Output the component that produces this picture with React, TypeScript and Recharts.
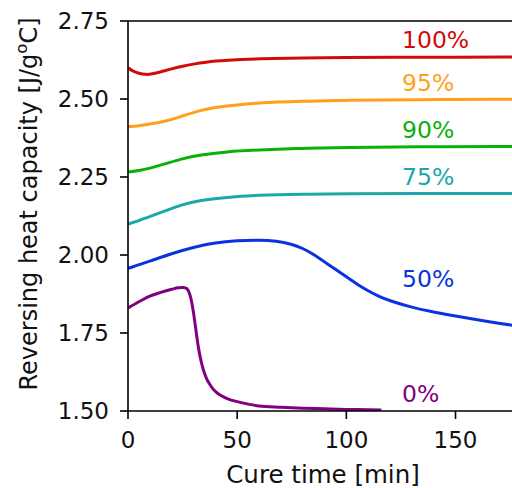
import { LineChart, Line, XAxis, YAxis, ReferenceLine, ReferenceDot } from "recharts";

// cure time [min] / reversing heat capacity [J/g°C]
const T_100 = [0, 2, 5, 8, 11, 15, 20, 25, 30, 35, 45, 60, 80, 100, 120, 150, 178];
const V_100 = [2.6, 2.59, 2.582, 2.578, 2.58, 2.587, 2.597, 2.605, 2.612, 2.618, 2.624, 2.629, 2.632, 2.633, 2.634, 2.634, 2.635];

const T_95 = [0, 5, 10, 18, 24, 33, 45, 59, 80, 100, 130, 178];
const V_95 = [2.411, 2.414, 2.42, 2.43, 2.443, 2.465, 2.478, 2.488, 2.493, 2.496, 2.498, 2.499];

const T_90 = [0, 5, 10, 18, 24, 33, 45, 59, 80, 100, 130, 178];
const V_90 = [2.266, 2.27, 2.278, 2.294, 2.307, 2.321, 2.331, 2.337, 2.342, 2.345, 2.347, 2.348];

const T_75 = [0, 5, 10, 18, 24, 33, 45, 59, 80, 100, 130, 178];
const V_75 = [2.099, 2.11, 2.123, 2.144, 2.16, 2.176, 2.185, 2.192, 2.195, 2.196, 2.197, 2.197];

const T_50 = [0, 10, 20, 30, 40, 50, 60, 68, 75, 80, 85, 90, 95, 100, 105, 110, 115, 120, 130, 140, 150, 160, 170, 178];
const V_50 = [1.957, 1.98, 2.005, 2.025, 2.04, 2.046, 2.048, 2.045, 2.035, 2.022, 2.002, 1.978, 1.954, 1.93, 1.906, 1.885, 1.867, 1.853, 1.832, 1.817, 1.804, 1.792, 1.781, 1.773];

const T_0 = [0, 5, 10, 15, 20, 23, 25.5, 27, 28, 29, 30, 31, 32, 33, 34, 35, 36, 37.5, 39, 41, 43, 46, 50, 55, 60, 70, 80, 90, 100, 110, 116];
const V_0 = [1.83, 1.85, 1.868, 1.88, 1.89, 1.895, 1.896, 1.892, 1.88, 1.855, 1.815, 1.765, 1.715, 1.675, 1.645, 1.622, 1.604, 1.585, 1.57, 1.557, 1.548, 1.538, 1.53, 1.522, 1.516, 1.512, 1.509, 1.507, 1.505, 1.504, 1.503];

const X_TICKS = [0, 50, 100, 150];
const Y_TICKS = [1.5, 1.75, 2.0, 2.25, 2.5, 2.75];

const LABEL_T = 125.5;
const LABELS = ["100%", "95%", "90%", "75%", "50%", "0%"];
const LABEL_V = [2.689, 2.55, 2.4, 2.25, 1.923, 1.554];

const COLORS = ["#d20a0a", "#ff9f1a", "#0ab00a", "#1aa8a8", "#0a32e0", "#800080"];
const CURVES: ("basis" | "monotone")[] = ["basis", "basis", "basis", "basis", "basis", "monotone"];

const toRows = (t: number[], v: number[]) => t.map((x, i) => ({ t: x, v: v[i] }));
const SERIES = [
  toRows(T_100, V_100),
  toRows(T_95, V_95),
  toRows(T_90, V_90),
  toRows(T_75, V_75),
  toRows(T_50, V_50),
  toRows(T_0, V_0),
];

const FONT = "DejaVu Sans";
const AXIS = {
  stroke: "#000",
  tick: { fill: "#111", fontSize: 23, fontFamily: FONT },
  tickSize: 8,
  tickLine: { stroke: "#000", strokeWidth: 1.6 },
  axisLine: { stroke: "#000", strokeWidth: 1.6 },
};

export default function App() {
  return (
    <div style={{ position: "fixed", left: 0, top: 0, width: 512, height: 488, overflow: "hidden", background: "#fff" }}>
      <LineChart width={521} height={488} margin={{ top: 21, right: 0, bottom: 0, left: 0 }}>
        <XAxis
          dataKey="t" type="number" domain={[0, 180]} ticks={X_TICKS} {...AXIS}
          height={77} tickMargin={13} allowDataOverflow
        />
        <YAxis
          type="number" domain={[1.5, 2.75]} ticks={Y_TICKS} {...AXIS}
          width={128} tickMargin={11} tickFormatter={(v: number) => v.toFixed(2)} allowDataOverflow
        />
        <ReferenceLine y={2.75} stroke="#000" strokeWidth={1.6} />
        {SERIES.map((rows, i) => (
          <Line
            key={LABELS[i]}
            data={rows}
            dataKey="v"
            type={CURVES[i]}
            stroke={COLORS[i]}
            strokeWidth={3}
            dot={false}
            isAnimationActive={false}
          />
        ))}
        {LABELS.map((s, i) => (
          <ReferenceDot
            key={s}
            x={LABEL_T}
            y={LABEL_V[i]}
            r={0}
            stroke="none"
            fill="none"
            label={(p: any) => (
              <text
                x={p.viewBox.x}
                y={p.viewBox.y}
                fill={COLORS[i]}
                fontSize={23.5}
                fontFamily={FONT}
                textAnchor="start"
                dominantBaseline="central"
              >
                {s}
              </text>
            )}
          />
        ))}
      </LineChart>
      <svg width={512} height={488} style={{ position: "absolute", left: 0, top: 0, pointerEvents: "none" }}>
        <text x={323} y={483} textAnchor="middle" fontSize={24.5} fontFamily={FONT} fill="#111">
          Cure time [min]
        </text>
        <text
          transform="translate(37,204) rotate(-90)"
          textAnchor="middle"
          fontSize={24}
          fontFamily={FONT}
          fill="#111"
        >
          Reversing heat capacity [J/g<tspan dy={-10} fontSize={16.5}>o</tspan>
          <tspan dy={10}>C]</tspan>
        </text>
      </svg>
    </div>
  );
}
